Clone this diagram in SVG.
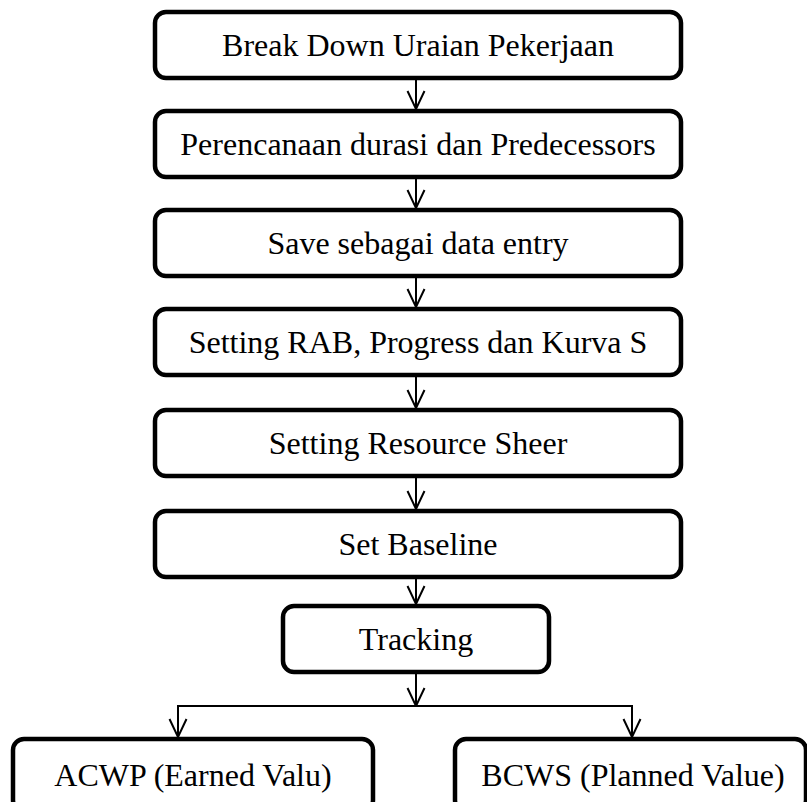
<svg xmlns="http://www.w3.org/2000/svg" width="807" height="802" viewBox="0 0 807 802">
<defs>
<style>
.box{fill:#fff;stroke:#000;stroke-width:4.5}
.t{font-family:"Liberation Serif","Times New Roman",serif;font-size:32px;fill:#000;text-anchor:middle}
.c{fill:none;stroke:#000;stroke-width:2}
</style>
<marker id="ah" markerWidth="20" markerHeight="20" refX="19" refY="10" orient="auto" markerUnits="userSpaceOnUse" viewBox="0 0 20 20">
<path d="M1,1.5 L19,10 L1,18.5" fill="none" stroke="#000" stroke-width="2"/>
</marker>
</defs>
<rect width="807" height="802" fill="#fff"/>
<g id="connectors">
<line class="c" x1="416" y1="78" x2="416" y2="109" marker-end="url(#ah)"/>
<line class="c" x1="416" y1="177" x2="416" y2="208" marker-end="url(#ah)"/>
<line class="c" x1="416" y1="276" x2="416" y2="307" marker-end="url(#ah)"/>
<line class="c" x1="416" y1="375" x2="416" y2="408" marker-end="url(#ah)"/>
<line class="c" x1="416" y1="476" x2="416" y2="509" marker-end="url(#ah)"/>
<line class="c" x1="416" y1="577" x2="416" y2="604" marker-end="url(#ah)"/>
<line class="c" x1="416" y1="672" x2="416" y2="706" marker-end="url(#ah)"/>
<line class="c" x1="177" y1="706" x2="633" y2="706"/>
<line class="c" x1="178" y1="706" x2="178" y2="737" marker-end="url(#ah)"/>
<line class="c" x1="632" y1="706" x2="632" y2="737" marker-end="url(#ah)"/>
</g>
<g id="n1"><rect class="box" x="155" y="12" width="526" height="66" rx="11"/><text class="t" x="418" y="56">Break Down Uraian Pekerjaan</text></g>
<g id="n2"><rect class="box" x="155" y="111" width="526" height="66" rx="11"/><text class="t" x="418" y="155">Perencanaan durasi dan Predecessors</text></g>
<g id="n3"><rect class="box" x="155" y="210" width="526" height="66" rx="11"/><text class="t" x="418" y="254">Save sebagai data entry</text></g>
<g id="n4"><rect class="box" x="155" y="309" width="526" height="66" rx="11"/><text class="t" x="418" y="353">Setting RAB, Progress dan Kurva S</text></g>
<g id="n5"><rect class="box" x="155" y="410" width="526" height="66" rx="11"/><text class="t" x="418" y="454">Setting Resource Sheer</text></g>
<g id="n6"><rect class="box" x="155" y="511" width="526" height="66" rx="11"/><text class="t" x="418" y="555">Set Baseline</text></g>
<g id="n7"><rect class="box" x="283" y="606" width="266" height="66" rx="11"/><text class="t" x="416" y="650">Tracking</text></g>
<g id="n8"><rect class="box" x="13" y="739" width="360" height="72" rx="11"/><text class="t" x="193" y="786">ACWP (Earned Valu)</text></g>
<g id="n9"><rect class="box" x="455" y="739" width="351" height="72" rx="11"/><text class="t" x="633" y="786">BCWS (Planned Value)</text></g>
</svg>
